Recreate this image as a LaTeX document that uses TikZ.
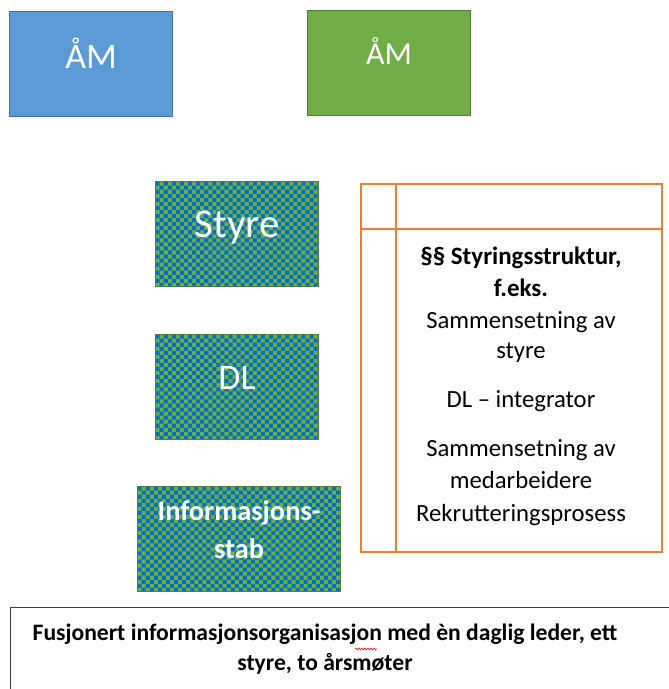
\documentclass[tikz,border=0pt]{standalone}
\usepackage{fontspec}
\setmainfont{Carlito}
\usetikzlibrary{decorations.pathmorphing}

\definecolor{amblue}{HTML}{5B9BD5}
\definecolor{amblueedge}{HTML}{41719C}
\definecolor{amgreen}{HTML}{70AD47}
\definecolor{amgreenedge}{HTML}{507E32}
\definecolor{chkblue}{HTML}{0070C0}
\definecolor{tblorange}{HTML}{ED7D31}
\definecolor{boxgray}{HTML}{404040}

\tikzset{
  box/.style={line width=1.2pt, inner sep=0pt, anchor=north west,
    minimum width=#1, minimum height=105pt},
  box/.default=163pt,
  % green ground with blue 4pt squares on a checker grid
  chequered/.style={box=#1, draw=amgreenedge, fill=amgreen,
    path picture={
      \fill[chkblue]
        \foreach \i in {0,...,25}{\foreach \j in {0,...,13}{
          ([shift={({8.1pt*\i},{-8.1pt*\j})}]path picture bounding box.north west)
            rectangle ++(4.05pt,-4.05pt)
          ([shift={({8.1pt*\i+4.05pt},{-8.1pt*\j-4.05pt})}]path picture bounding box.north west)
            rectangle ++(4.05pt,-4.05pt)
        }};
    }},
  chequered/.default=163pt,
  boxtext/.style={text=white, anchor=base, inner sep=0pt},
  celltext/.style={text=black, anchor=base, inner sep=0pt,
    font=\fontsize{24.7}{29}\selectfont},
  cellhead/.style={celltext, font=\bfseries\fontsize{25}{29}\selectfont},
  captext/.style={celltext, font=\bfseries\fontsize{23.6}{29}\selectfont},
}

\begin{document}
\begin{tikzpicture}[x=1pt, y=-1pt]
  \useasboundingbox (0,0) rectangle (669,689);

  % annual meetings
  \node[box, fill=amblue, draw=amblueedge] (amA) at (9,11) {};
  \node[boxtext, font=\fontsize{36}{40}\selectfont] (amAt) at (amA.center |- 0,68) {ÅM};
  \node[box, fill=amgreen, draw=amgreenedge] (amB) at (307,10) {};
  \node[boxtext, font=\fontsize{32}{36}\selectfont] (amBt) at (amB.center |- 0,64) {ÅM};

  % merged organisation
  \node[chequered] (styre) at (155,181) {};
  \node[boxtext, font=\fontsize{41}{46}\selectfont] (styret) at (styre.center |- 0,237) {Styre};
  \node[chequered] (dl) at (155,334) {};
  \node[boxtext, font=\fontsize{36}{40}\selectfont] (dlt) at (dl.center |- 0,389) {DL};
  \node[chequered=203pt] (stab) at (137,486) {};
  \node[boxtext, font=\bfseries\fontsize{28.4}{32}\selectfont] (stabA) at (stab.center |- 0,520) {Informasjons-};
  \node[boxtext, font=\bfseries\fontsize{28.4}{32}\selectfont] (stabB) at (stab.center |- 0,558) {stab};

  % governance table
  \node[draw=tblorange, line width=1.5pt, anchor=north west, inner sep=0pt,
        minimum width=301pt, minimum height=368pt] (tbl) at (360,183) {};
  \coordinate (colTop) at (396,183);
  \coordinate (colBot) at (396,551);
  \coordinate (rowL) at (360,229);
  \coordinate (rowR) at (661,229);
  \draw[tblorange, line width=1.5pt] (colTop) -- (colBot);
  \draw[tblorange, line width=1.5pt] (rowL) -- (rowR);

  \node[cellhead] (t1) at (521,264) {§§ Styringsstruktur,};
  \node[cellhead] (t2) at (521,296) {f.eks.};
  \node[celltext] (t3) at (521,328) {Sammensetning av};
  \node[celltext] (t4) at (521,358) {styre};
  \node[celltext] (t5) at (521,407) {DL – integrator};
  \node[celltext] (t6) at (521,456) {Sammensetning av};
  \node[celltext] (t7) at (521,488) {medarbeidere};
  \node[celltext] (t8) at (521,521) {Rekrutteringsprosess};

  % caption box
  \node[draw=boxgray, line width=1pt, anchor=north west, inner sep=0pt,
        minimum width=680pt, minimum height=100pt] (cap) at (10,607) {};
  \node[captext] (capA) at (325,640)
    {Fusjonert informasjonsorganisasjon med èn daglig leder, ett};
  \node[captext] (capB) at (325,670)
    {styre, to årsmøter};
  \draw[red, line width=0.6pt, decorate,
        decoration={snake, amplitude=0.9pt, segment length=3pt}]
    (355,649) -- (377,649);
\end{tikzpicture}
\end{document}
